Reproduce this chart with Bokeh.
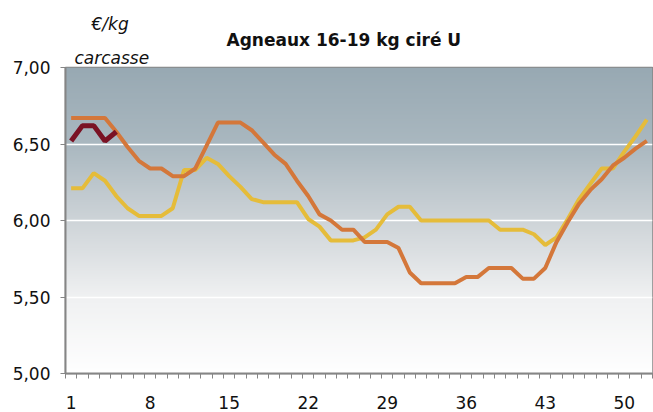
import numpy as np
from bokeh.plotting import figure
from bokeh.models import FixedTicker, CustomJSTickFormatter, Title, Range1d
from bokeh.embed import file_html
from bokeh.resources import INLINE

# ---- data ----
weeks = list(range(1, 53))
x_tick_labels = [1, 8, 15, 22, 29, 36, 43, 50]
y_ticks = [5.0, 5.5, 6.0, 6.5, 7.0]

serie_jaune = [6.21, 6.21, 6.31, 6.26, 6.16, 6.08, 6.03, 6.03, 6.03, 6.08,
               6.33, 6.33, 6.41, 6.37, 6.29, 6.22, 6.14, 6.12, 6.12, 6.12,
               6.12, 6.01, 5.96, 5.87, 5.87, 5.87, 5.89, 5.94, 6.04, 6.09,
               6.09, 6.00, 6.00, 6.00, 6.00, 6.00, 6.00, 6.00, 5.94, 5.94,
               5.94, 5.91, 5.84, 5.89, 6.01, 6.14, 6.24, 6.34, 6.34, 6.45,
               6.55, 6.66]
serie_orange = [6.67, 6.67, 6.67, 6.67, 6.58, 6.48, 6.39, 6.34, 6.34, 6.29,
                6.29, 6.34, 6.49, 6.64, 6.64, 6.64, 6.59, 6.51, 6.43, 6.37,
                6.26, 6.16, 6.04, 6.00, 5.94, 5.94, 5.86, 5.86, 5.86, 5.82,
                5.66, 5.59, 5.59, 5.59, 5.59, 5.63, 5.63, 5.69, 5.69, 5.69,
                5.62, 5.62, 5.69, 5.86, 5.99, 6.11, 6.20, 6.27, 6.36, 6.41,
                6.47, 6.52]
semaines_courantes = [1, 2, 3, 4, 5]
serie_courante = [6.52, 6.62, 6.62, 6.52, 6.58]

AXIS_GRAY = "#858585"

p = figure(width=653, height=412, title=None,
           x_range=Range1d(0.5, 52.5), y_range=Range1d(5, 7),
           output_backend="svg", toolbar_location=None,
           min_border_left=65, min_border_right=1,
           min_border_top=67, min_border_bottom=39)

p.background_fill_color = "white"
p.border_fill_color = "white"
p.outline_line_color = AXIS_GRAY
p.outline_line_width = 1.5

# gradient background of the plotting area
stops_pos = np.array([0.0, 0.25, 0.5, 0.75, 1.0])      # 0 = bottom, 1 = top
stops_rgb = np.array([[255, 255, 255],
                      [240, 241, 242],
                      [206, 212, 216],
                      [170, 184, 192],
                      [152, 169, 179]], dtype=float)
n = 300
t = np.linspace(0, 1, n)
img = np.empty((n, 1), dtype=np.uint32)
view = img.view(dtype=np.uint8).reshape((n, 1, 4))
for c in range(3):
    view[:, 0, c] = np.interp(t, stops_pos, stops_rgb[:, c]).astype(np.uint8)
view[:, 0, 3] = 255
p.image_rgba(image=[img], x=0.5, y=5, dw=52, dh=2, level="image")

# grid
p.xgrid.grid_line_color = None
p.ygrid.ticker = FixedTicker(ticks=y_ticks)
p.ygrid.grid_line_color = "white"
p.ygrid.grid_line_width = 1.5

# lines
p.line(weeks, serie_jaune, line_color="#E5BC3A", line_width=4)
p.line(weeks, serie_orange, line_color="#D4773A", line_width=4)
p.line(semaines_courantes, serie_courante, line_color="#7A1224", line_width=5)

# x axis
p.xaxis.ticker = FixedTicker(ticks=x_tick_labels,
                             minor_ticks=list(np.arange(0.5, 53, 1.0)))
p.xaxis.axis_line_color = AXIS_GRAY
p.xaxis.axis_line_width = 2
p.xaxis.major_tick_line_color = None
p.xaxis.major_tick_out = 5
p.xaxis.major_tick_in = 0
p.xaxis.minor_tick_line_color = AXIS_GRAY
p.xaxis.minor_tick_out = 5
p.xaxis.minor_tick_in = 0
p.xaxis.major_label_text_font = "DejaVu Sans"
p.xaxis.major_label_text_font_size = "17px"
p.xaxis.major_label_text_color = "#111111"
p.xaxis.major_label_standoff = 17

# y axis
p.yaxis.ticker = FixedTicker(ticks=y_ticks)
p.yaxis.formatter = CustomJSTickFormatter(code="return tick.toFixed(2).replace('.', ',');")
p.yaxis.axis_line_color = AXIS_GRAY
p.yaxis.axis_line_width = 2
p.yaxis.major_tick_line_color = AXIS_GRAY
p.yaxis.major_tick_out = 5
p.yaxis.major_tick_in = 0
p.yaxis.minor_tick_line_color = None
p.yaxis.major_label_text_font = "DejaVu Sans"
p.yaxis.major_label_text_font_size = "17px"
p.yaxis.major_label_text_color = "#111111"
p.yaxis.major_label_standoff = 10

# titles (first added = closest to the plot area)
p.add_layout(Title(text="carcasse", align="left", offset=9, standoff=-1,
                   text_font="DejaVu Sans", text_font_size="17px",
                   text_font_style="italic", text_color="#111111"), "above")
p.add_layout(Title(text="Agneaux 16-19 kg ciré U", align="left", offset=161,
                   standoff=-6,
                   text_font="DejaVu Sans", text_font_size="17px",
                   text_font_style="bold", text_color="#111111"), "above")
p.add_layout(Title(text="€/kg", align="left", offset=26, standoff=-6,
                   text_font="DejaVu Sans", text_font_size="17px",
                   text_font_style="italic", text_color="#111111"), "above")

open("out.html", "w").write(file_html(p, INLINE))
